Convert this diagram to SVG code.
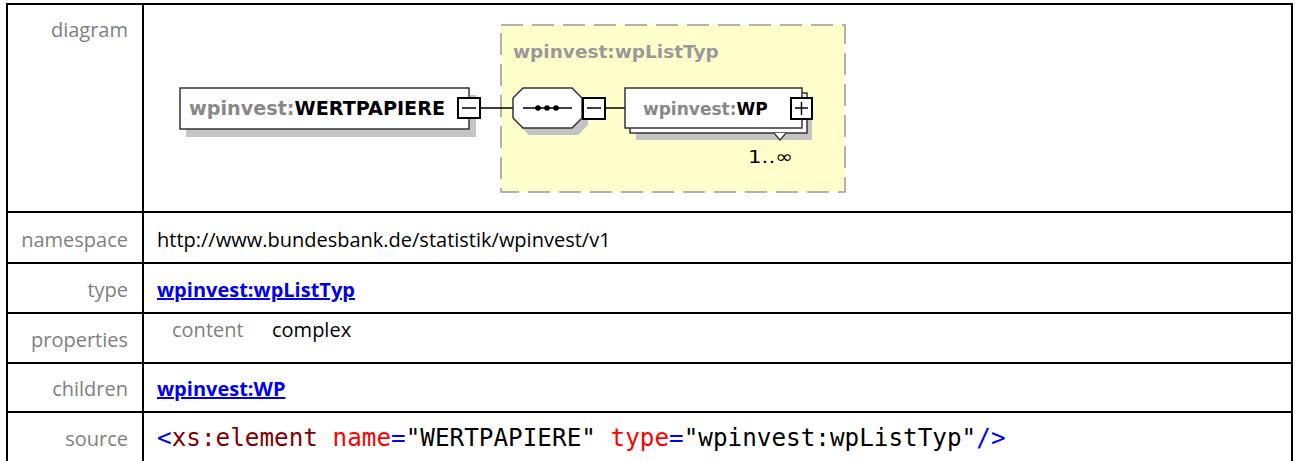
<svg xmlns="http://www.w3.org/2000/svg" width="1298" height="461" viewBox="0 0 1298 461">
<style>
.lbl{font-family:"Open Sans","Noto Sans",sans-serif;font-size:20px;fill:#808080;text-anchor:end}
.val{font-family:"Open Sans","Noto Sans",sans-serif;font-size:20px;fill:#000}
.lnk{font-family:"Open Sans","Noto Sans",sans-serif;font-size:20px;font-weight:bold;fill:#0000ee;text-decoration:underline}
.grid{stroke:#000;stroke-width:2;fill:none}
.box{fill:#fff;stroke:#333;stroke-width:1.5}
.shadow{fill:#c4c4c4}
.dg{font-family:"DejaVu Sans",sans-serif;font-weight:bold}
.src{font-family:"DejaVu Sans Mono",monospace;font-size:24.3px}
.conn{stroke:#000;stroke-width:1.5;fill:none}
</style>
<rect width="1298" height="461" fill="#fff"/>
<g id="table" class="grid">
<path d="M7 461V4H1292V461"/>
<path d="M143 4V461"/>
<path d="M7 212H1292M7 263H1292M7 313H1292M7 363H1292M7 412H1292"/>
</g>
<g id="labels">
<text class="lbl" x="128" y="37">diagram</text>
<text class="lbl" x="128" y="247">namespace</text>
<text class="lbl" x="128" y="297">type</text>
<text class="lbl" x="128" y="347">properties</text>
<text class="lbl" x="128" y="396">children</text>
<text class="lbl" x="128" y="446">source</text>
</g>
<g id="values">
<text class="val" x="157" y="247">http://www.bundesbank.de/statistik/wpinvest/v1</text>
<text class="lnk" x="157" y="297">wpinvest:wpListTyp</text>
<text class="val" x="172" y="337" style="fill:#808080">content</text>
<text class="val" x="272" y="337">complex</text>
<text class="lnk" x="157" y="396">wpinvest:WP</text>
<text class="src" x="157" y="446"><tspan fill="#0000ff">&lt;</tspan><tspan fill="#800000">xs:element</tspan> <tspan fill="#ff0000">name</tspan><tspan fill="#0000ff">=</tspan><tspan fill="#000">"WERTPAPIERE"</tspan> <tspan fill="#ff0000">type</tspan><tspan fill="#0000ff">=</tspan><tspan fill="#000">"wpinvest:wpListTyp"</tspan><tspan fill="#0000ff">/&gt;</tspan></text>
</g>
<g id="complexType">
<rect x="501" y="25" width="344" height="167" fill="#ffffcc" stroke="#999" stroke-width="1.5" stroke-dasharray="22,9"/>
<text class="dg" x="513" y="58" font-size="18.5" fill="#999">wpinvest:wpListTyp</text>
</g>
<g id="connectors">
<path class="conn" d="M480 108H513M605 108H625"/>
</g>
<g id="element-WERTPAPIERE">
<rect class="shadow" x="186" y="95" width="290" height="42"/>
<rect class="box" x="180" y="88" width="289" height="41"/>
<text class="dg" x="189" y="115" font-size="19.2"><tspan fill="#888">wpinvest:</tspan><tspan fill="#000">WERTPAPIERE</tspan></text>
<rect x="458" y="98" width="22" height="20" fill="#fff" stroke="#000" stroke-width="2"/>
<path d="M462 108H476" stroke="#000" stroke-width="1.5"/>
</g>
<g id="sequence">
<path class="shadow" d="M529 95H578L588 105V125L578 135H529L519 125V105Z"/>
<path d="M523 88H572L582 98V118L572 128H523L513 118V98Z" fill="#fff" stroke="#333" stroke-width="1.5"/>
<path d="M523 108H572" stroke="#000" stroke-width="1.5"/>
<circle cx="538" cy="108" r="2.8"/>
<circle cx="547" cy="108" r="2.8"/>
<circle cx="556" cy="108" r="2.8"/>
<rect x="583" y="98" width="22" height="21" fill="#fff" stroke="#000" stroke-width="2"/>
<path d="M587 108H601" stroke="#000" stroke-width="1.5"/>
</g>
<g id="element-WP">
<rect class="shadow" x="636" y="100" width="176" height="40"/>
<rect class="box" x="630" y="93" width="177" height="40"/>
<rect class="box" x="625" y="88" width="177" height="40"/>
<text class="dg" x="643" y="115" font-size="17"><tspan fill="#888">wpinvest:</tspan><tspan fill="#000">WP</tspan></text>
<path d="M774 133L780 140L786 133" fill="#fff" stroke="#333" stroke-width="1.2"/>
<rect x="791" y="98" width="21" height="21" fill="#fff" stroke="#000" stroke-width="2"/>
<path d="M795 108H808M801.5 102V115" stroke="#000" stroke-width="1.5"/>
<text x="748" y="163" font-family="DejaVu Sans,sans-serif" font-size="18" fill="#000" textLength="45" lengthAdjust="spacingAndGlyphs">1..∞</text>
</g>
</svg>
